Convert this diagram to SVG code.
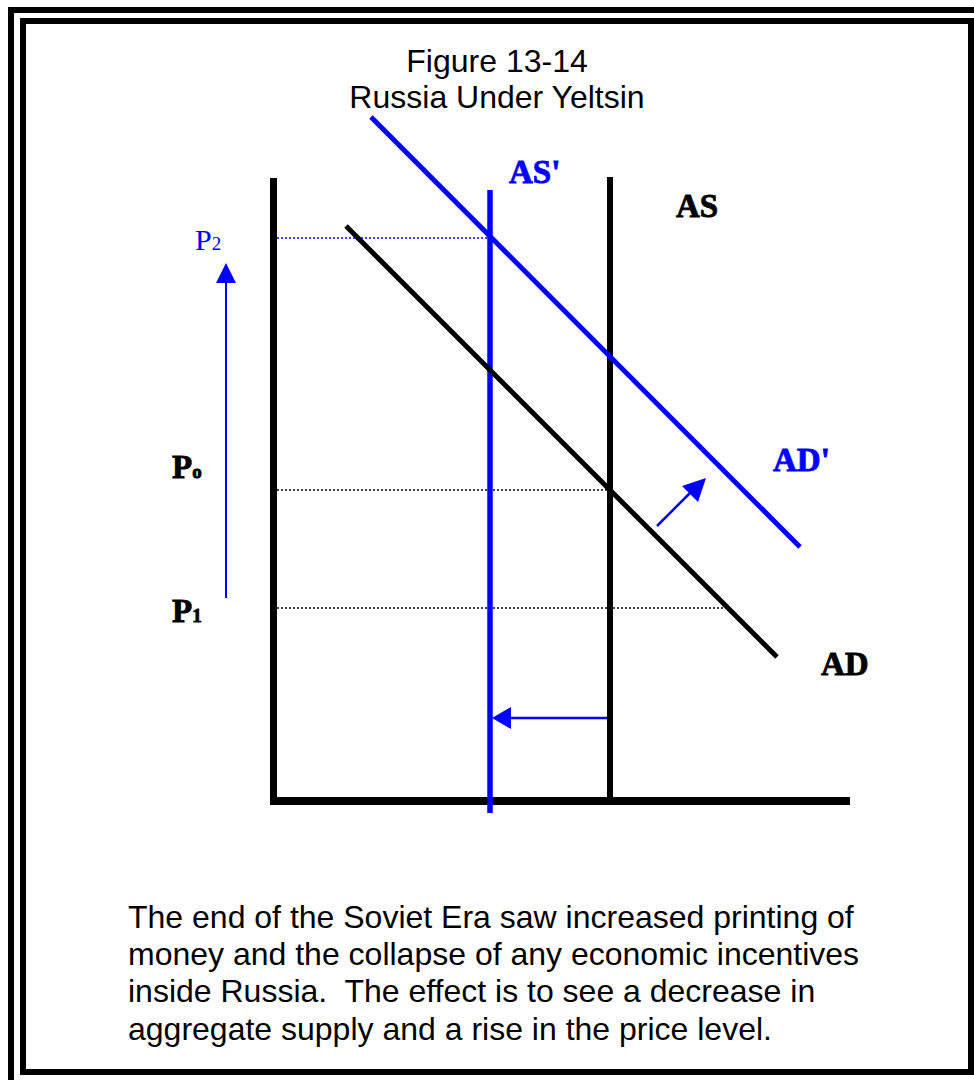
<svg xmlns="http://www.w3.org/2000/svg" width="974" height="1080" viewBox="0 0 974 1080">
<style>
.frame{fill:none;stroke:#000;stroke-width:6}
.sans{font-family:"Liberation Sans",Arial,sans-serif;font-size:32px;fill:#000;white-space:pre}
.lbl{font-family:"Liberation Serif","Times New Roman",serif;font-weight:bold;font-size:33px;stroke-width:0.9}
.blk{fill:#000;stroke:#000}
.blu{fill:#0000ff;stroke:#0000ff}
.dot{stroke-width:1.5;stroke-dasharray:2 2;fill:none}
</style>
<rect width="974" height="1080" fill="#fff"/>
<rect id="outer-frame" class="frame" x="11" y="10" width="975" height="1080"/>
<rect id="inner-frame" class="frame" x="23" y="21" width="948" height="1051"/>
<g id="title">
<text class="sans" x="497" y="72" text-anchor="middle">Figure 13-14</text>
<text class="sans" x="497" y="108" text-anchor="middle">Russia Under Yeltsin</text>
</g>
<g id="axes">
<line x1="273.5" y1="178" x2="273.5" y2="805" stroke="#000" stroke-width="7"/>
<line x1="270" y1="801" x2="850" y2="801" stroke="#000" stroke-width="8"/>
</g>
<g id="connectors">
<line class="dot" x1="277" y1="238" x2="490" y2="238" stroke="#0000ff"/>
<line class="dot" x1="277" y1="490" x2="610" y2="490" stroke="#000"/>
<line class="dot" x1="277" y1="608" x2="728" y2="608" stroke="#000"/>
<g id="arrow-price">
<line x1="226" y1="598" x2="226" y2="280" stroke="#0000ff" stroke-width="2"/>
<path d="M226,263 L236,283 L216,283 Z" fill="#0000ff"/>
</g>
<g id="arrow-as-shift">
<line x1="610" y1="718" x2="508" y2="718" stroke="#0000ff" stroke-width="2.5"/>
<path d="M492,718 L511,707 L511,729 Z" fill="#0000ff"/>
</g>
<g id="arrow-ad-shift">
<line x1="657" y1="526" x2="692" y2="491" stroke="#0000ff" stroke-width="2.5"/>
<path d="M706,478 L698,502 L682,486 Z" fill="#0000ff"/>
</g>
</g>
<g id="AS">
<line x1="610" y1="177" x2="610" y2="801" stroke="#000" stroke-width="6"/>
<text class="lbl blk" x="676" y="217">AS</text>
</g>
<g id="AS-prime">
<line x1="490" y1="190" x2="490" y2="813" stroke="#0000ff" stroke-width="5.5"/>
<text class="lbl blu" x="509" y="183">AS'</text>
</g>
<g id="AD">
<line x1="346" y1="226" x2="777" y2="657" stroke="#000" stroke-width="5"/>
<text class="lbl blk" x="821" y="675">AD</text>
</g>
<g id="AD-prime">
<line x1="371" y1="117" x2="800" y2="547" stroke="#0000ff" stroke-width="5"/>
<text class="lbl blu" x="773" y="471">AD'</text>
</g>
<g id="P2">
<text font-family="'Liberation Serif','Times New Roman',serif" font-size="30" fill="#0000ff" x="195" y="250">P<tspan font-size="19">2</tspan></text>
</g>
<g id="P0">
<text class="lbl blk" font-size="30" x="172" y="478">P<tspan font-size="19">o</tspan></text>
</g>
<g id="P1">
<text class="lbl blk" font-size="30" x="172" y="622">P<tspan font-size="19">1</tspan></text>
</g>
<g id="caption">
<text class="sans" x="128" y="928">The end of the Soviet Era saw increased printing of</text>
<text class="sans" x="128" y="965">money and the collapse of any economic incentives</text>
<text class="sans" x="128" y="1002" xml:space="preserve">inside Russia.  The effect is to see a decrease in</text>
<text class="sans" x="128" y="1040">aggregate supply and a rise in the price level.</text>
</g>
</svg>
